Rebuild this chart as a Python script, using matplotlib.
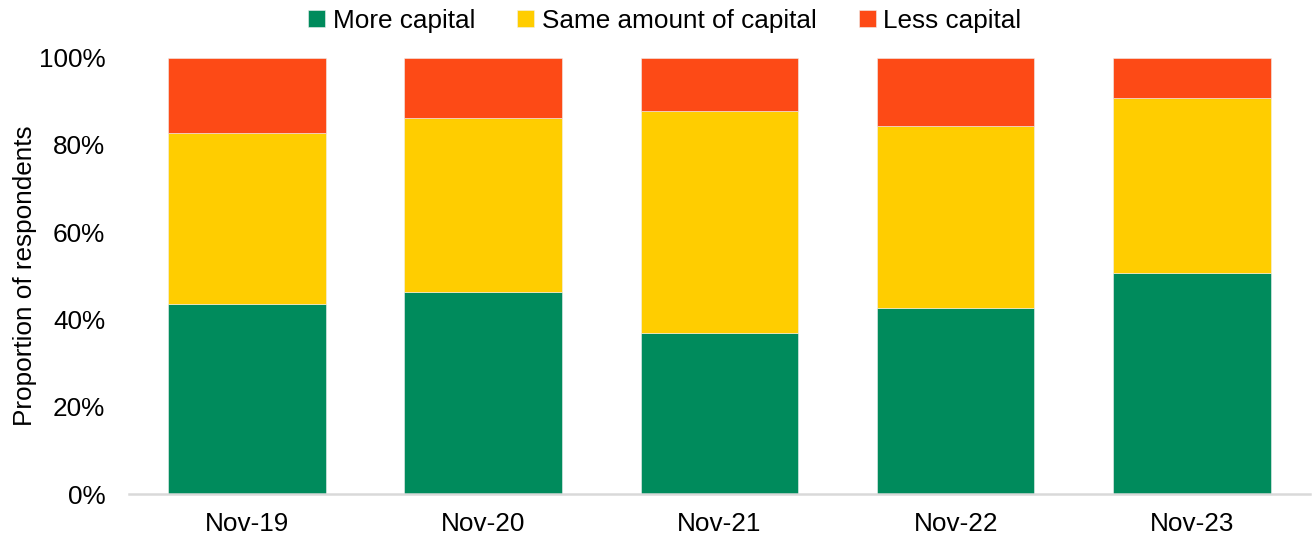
import numpy as np
import matplotlib
matplotlib.use("Agg")
import matplotlib.pyplot as plt
from matplotlib.ticker import PercentFormatter

plt.rcParams['font.family'] = ['Liberation Sans', 'DejaVu Sans']

# survey dates
periods = ["Nov-19", "Nov-20", "Nov-21", "Nov-22", "Nov-23"]

# share of respondents (%)
more_capital = [43.6, 46.3, 36.9, 42.7, 50.6]
same_capital = [39.2, 39.8, 50.8, 41.5, 40.1]
less_capital = [17.2, 13.9, 12.3, 15.8, 9.3]

series_names = ["More capital", "Same amount of capital", "Less capital"]
colors = ["#008B5C", "#FFCD00", "#FD4A16"]
fs = 18.8

fig = plt.figure(figsize=(13.14, 5.4), dpi=100)
ax = fig.add_axes([0.098, 0.085, 0.899, 0.8085])

x = np.arange(len(periods))
bottom = np.zeros(len(periods))
for name, vals, c in zip(series_names, [more_capital, same_capital, less_capital], colors):
    vals = np.array(vals) / 100
    ax.bar(x, vals, width=0.667, bottom=bottom, color=c, label=name,
           edgecolor="#f0f0f0", linewidth=0.4)
    bottom += vals

ax.set_xlim(-0.5, 4.5)
ax.set_ylim(0, 1)
ax.set_yticks(np.arange(0, 1.01, 0.2))
ax.yaxis.set_major_formatter(PercentFormatter(1.0, decimals=0))
ax.set_xticks(x)
ax.set_xticklabels(periods)
ax.tick_params(axis="y", length=0, pad=17, labelsize=fs)
ax.tick_params(axis="x", length=0, pad=13, labelsize=fs)

for side in ["top", "right", "left"]:
    ax.spines[side].set_visible(False)
ax.spines["bottom"].set_color("#D9D9D9")
ax.spines["bottom"].set_linewidth(1.8)

ax.set_ylabel("Proportion of respondents", fontsize=fs)
ax.yaxis.set_label_coords(-0.078, 0.5)

fig.legend(loc="center", bbox_to_anchor=(0.506, 0.962), ncol=3, frameon=False,
           fontsize=fs, handlelength=0.65, handleheight=0.65, handletextpad=0.3,
           columnspacing=1.6)

fig.savefig("out.png", dpi=100)
